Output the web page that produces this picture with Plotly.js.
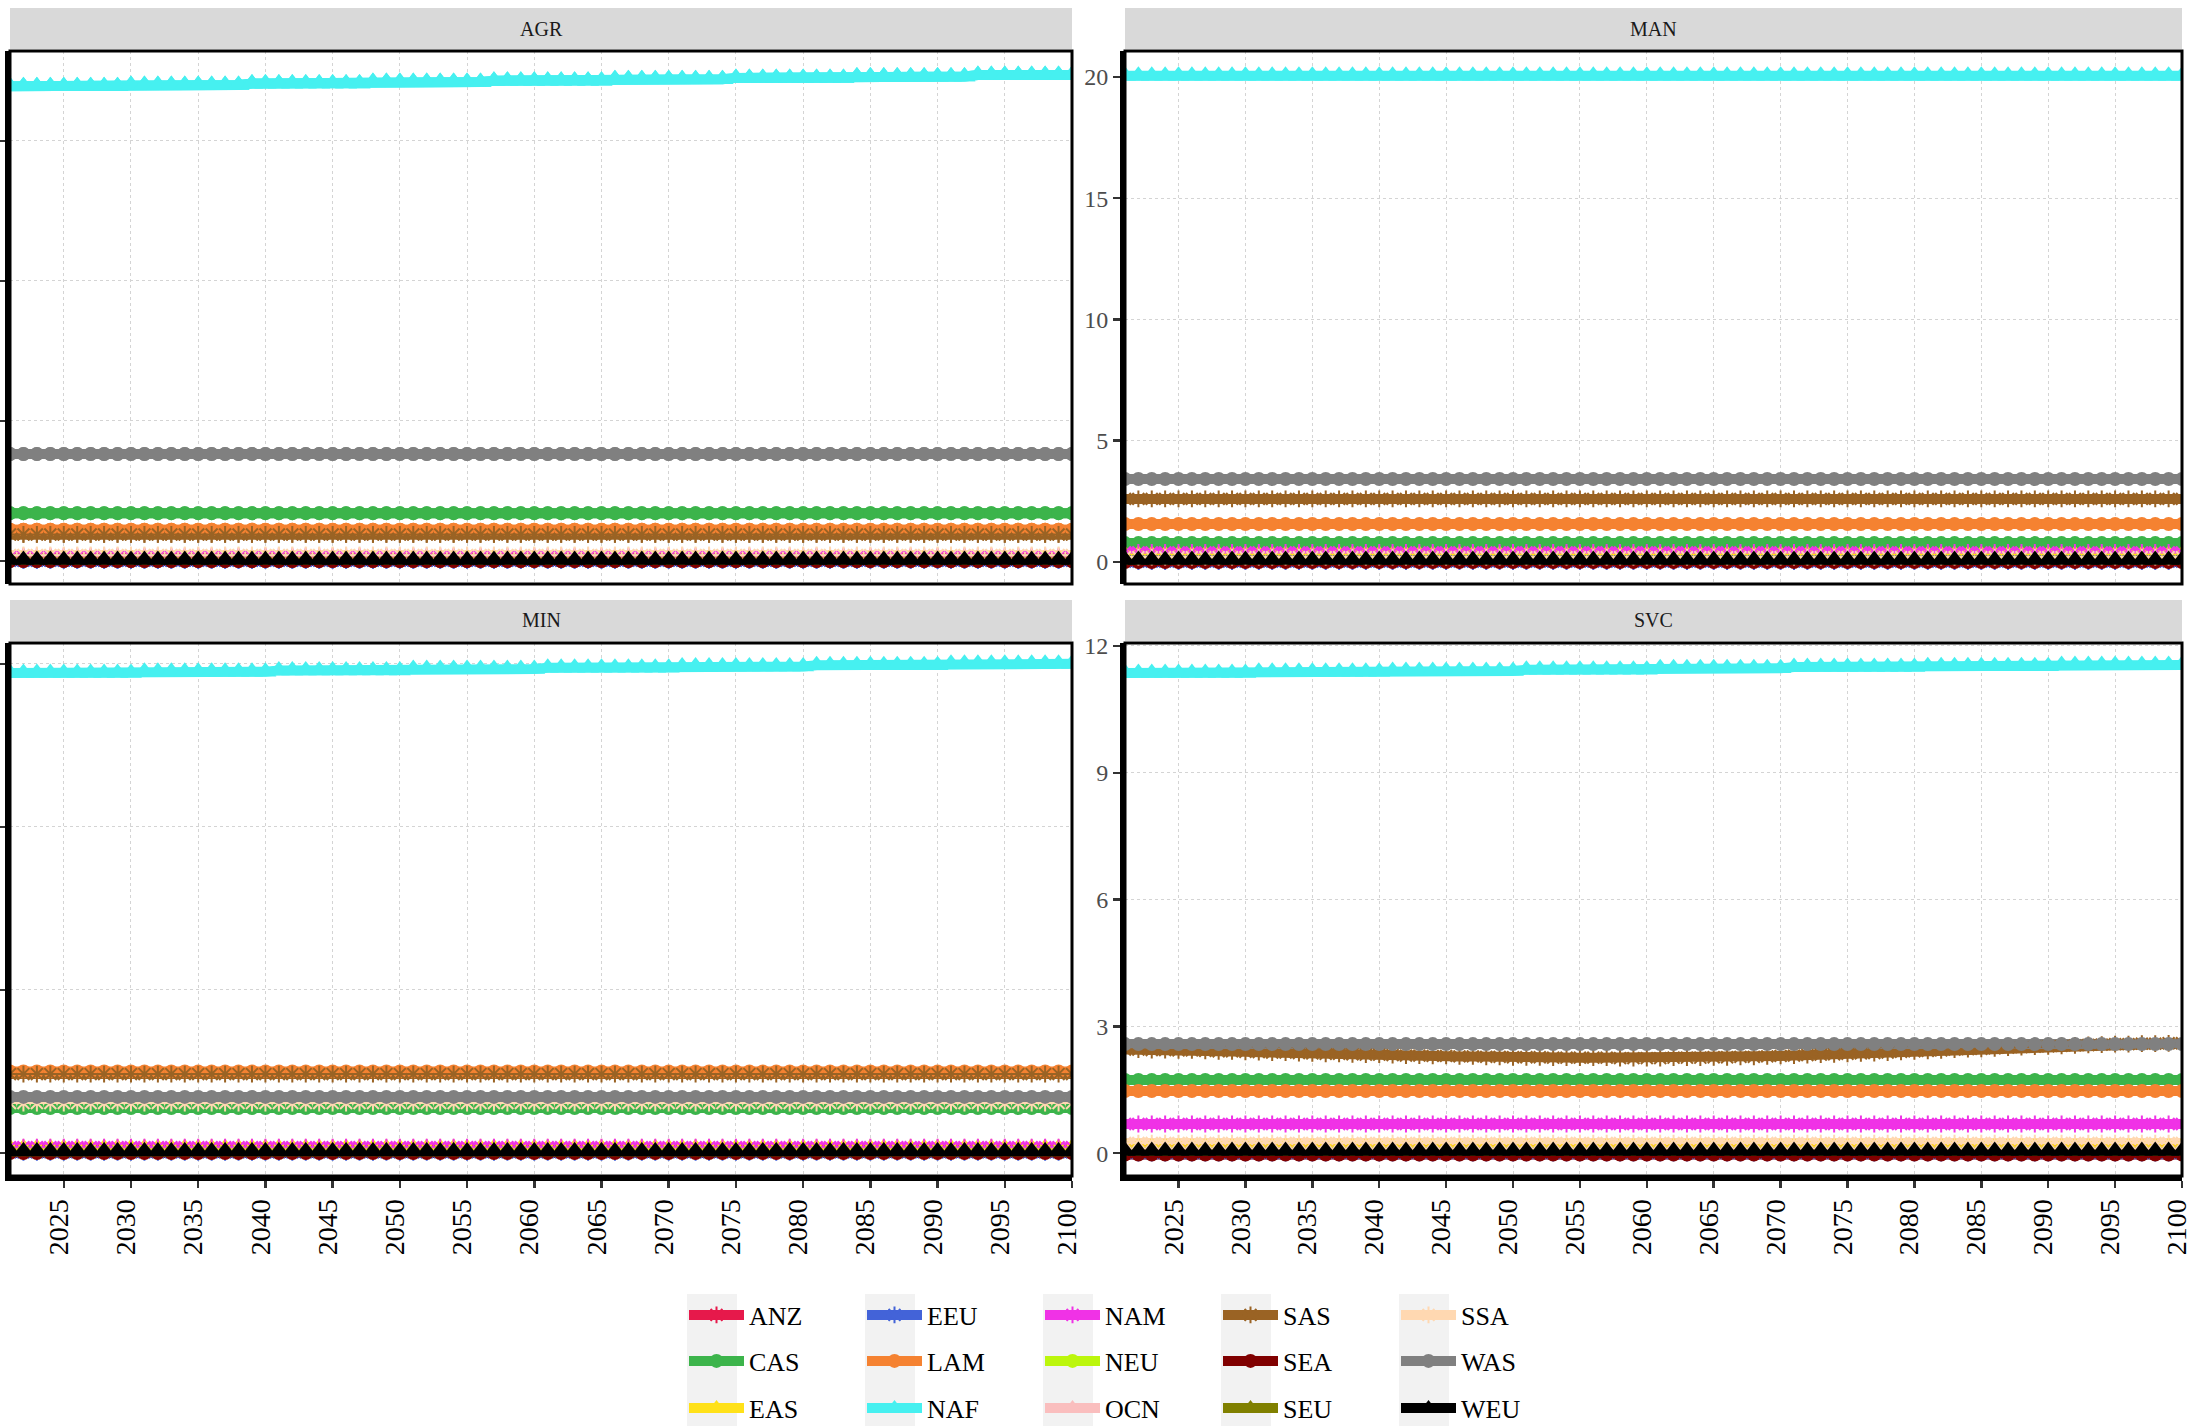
<!DOCTYPE html>
<html><head><meta charset="utf-8">
<script src="https://cdn.plot.ly/plotly-3.0.1.min.js"></script>
<style>html,body{margin:0;padding:0;background:#fff}#chart{width:2194px;height:1426px}</style>
</head><body><div id="chart"></div>
<script>
const years = [2021,2022,2023,2024,2025,2026,2027,2028,2029,2030, 2031,2032,2033,2034,2035,2036,2037,2038,2039,2040, 2041,2042,2043,2044,2045,2046,2047,2048,2049,2050, 2051,2052,2053,2054,2055,2056,2057,2058,2059,2060, 2061,2062,2063,2064,2065,2066,2067,2068,2069,2070, 2071,2072,2073,2074,2075,2076,2077,2078,2079,2080, 2081,2082,2083,2084,2085,2086,2087,2088,2089,2090, 2091,2092,2093,2094,2095,2096,2097,2098,2099,2100];
const regions = ['ANZ','CAS','EAS','EEU','LAM','NAF','NAM','NEU','OCN','SAS','SEA','SEU','SSA','WAS','WEU'];
const sectors = ['AGR','MAN','MIN','SVC'];
const xTickYears = [2025,2030,2035,2040,2045,2050,2055,2060,2065,2070,2075,2080,2085,2090,2095,2100];
const AGR_ticks = [0,5,10,15];
const MAN_ticks = [0,5,10,15,20];
const MIN_ticks = [0,5,10,15];
const SVC_ticks = [0,3,6,9,12];

// ---- AGR ----
const AGR_ANZ = [.05,.05,.05,.05,.05,.05,.05,.05,.05,.05, .05,.05,.05,.05,.05,.05,.05,.05,.05,.05, .05,.05,.05,.05,.05,.05,.05,.05,.05,.05, .05,.05,.05,.05,.05,.05,.05,.05,.05,.05, .05,.05,.05,.05,.05,.05,.05,.05,.05,.05, .05,.05,.05,.05,.05,.05,.05,.05,.05,.05, .05,.05,.05,.05,.05,.05,.05,.05,.05,.05, .05,.05,.05,.05,.05,.05,.05,.05,.05,.05];
const AGR_CAS = [1.71,1.71,1.71,1.71,1.71,1.71,1.71,1.71,1.71,1.71, 1.71,1.71,1.71,1.71,1.71,1.71,1.71,1.71,1.71,1.71, 1.71,1.71,1.71,1.71,1.71,1.71,1.71,1.71,1.71,1.71, 1.71,1.71,1.71,1.71,1.71,1.71,1.71,1.71,1.71,1.71, 1.71,1.71,1.71,1.71,1.71,1.71,1.71,1.71,1.71,1.71, 1.71,1.71,1.71,1.71,1.71,1.71,1.71,1.71,1.71,1.71, 1.71,1.71,1.71,1.71,1.71,1.71,1.71,1.71,1.71,1.71, 1.71,1.71,1.71,1.71,1.71,1.71,1.71,1.71,1.71,1.71];
const AGR_EAS = [.1,.1,.1,.1,.1,.1,.1,.1,.1,.1, .1,.1,.1,.1,.1,.1,.1,.1,.1,.1, .1,.1,.1,.1,.1,.1,.1,.1,.1,.1, .1,.1,.1,.1,.1,.1,.1,.1,.1,.1, .1,.1,.1,.1,.1,.1,.1,.1,.1,.1, .1,.1,.1,.1,.1,.1,.1,.1,.1,.1, .1,.1,.1,.1,.1,.1,.1,.1,.1,.1, .1,.1,.1,.1,.1,.1,.1,.1,.1,.1];
const AGR_EEU = [.02,.02,.02,.02,.02,.02,.02,.02,.02,.02, .02,.02,.02,.02,.02,.02,.02,.02,.02,.02, .02,.02,.02,.02,.02,.02,.02,.02,.02,.02, .02,.02,.02,.02,.02,.02,.02,.02,.02,.02, .02,.02,.02,.02,.02,.02,.02,.02,.02,.02, .02,.02,.02,.02,.02,.02,.02,.02,.02,.02, .02,.02,.02,.02,.02,.02,.02,.02,.02,.02, .02,.02,.02,.02,.02,.02,.02,.02,.02,.02];
const AGR_LAM = [1.12,1.12,1.12,1.12,1.12,1.12,1.12,1.12,1.12,1.12, 1.12,1.12,1.12,1.12,1.12,1.12,1.12,1.12,1.12,1.12, 1.12,1.12,1.12,1.12,1.12,1.12,1.12,1.12,1.12,1.12, 1.12,1.12,1.12,1.12,1.12,1.12,1.12,1.12,1.12,1.12, 1.12,1.12,1.12,1.12,1.12,1.12,1.12,1.12,1.12,1.12, 1.12,1.12,1.12,1.12,1.12,1.12,1.12,1.12,1.12,1.12, 1.12,1.12,1.12,1.12,1.12,1.12,1.12,1.12,1.12,1.12, 1.12,1.12,1.12,1.12,1.12,1.12,1.12,1.12,1.12,1.12];
const AGR_NAF = [16.95,16.95,16.95,16.95,16.95,16.95,16.95,16.95,16.95, 17,17,17,17,17,17,17,17,17, 17.05,17.05,17.05,17.05,17.05,17.05,17.05,17.05,17.05, 17.1,17.1,17.1,17.1,17.1,17.1,17.1,17.1,17.1, 17.15,17.15,17.15,17.15,17.15,17.15,17.15,17.15,17.15, 17.2,17.2,17.2,17.2,17.2,17.2,17.2,17.2,17.2, 17.25,17.25,17.25,17.25,17.25,17.25,17.25,17.25,17.25, 17.3,17.3,17.3,17.3,17.3,17.3,17.3,17.3,17.3, 17.35,17.35,17.35,17.35,17.35,17.35,17.35,17.35];
const AGR_NAM = [.15,.15,.15,.15,.15,.15,.15,.15,.15,.15, .15,.15,.15,.15,.15,.15,.15,.15,.15,.15, .15,.15,.15,.15,.15,.15,.15,.15,.15,.15, .15,.15,.15,.15,.15,.15,.15,.15,.15,.15, .15,.15,.15,.15,.15,.15,.15,.15,.15,.15, .15,.15,.15,.15,.15,.15,.15,.15,.15,.15, .15,.15,.15,.15,.15,.15,.15,.15,.15,.15, .15,.15,.15,.15,.15,.15,.15,.15,.15,.15];
const AGR_NEU = [.03,.03,.03,.03,.03,.03,.03,.03,.03,.03, .03,.03,.03,.03,.03,.03,.03,.03,.03,.03, .03,.03,.03,.03,.03,.03,.03,.03,.03,.03, .03,.03,.03,.03,.03,.03,.03,.03,.03,.03, .03,.03,.03,.03,.03,.03,.03,.03,.03,.03, .03,.03,.03,.03,.03,.03,.03,.03,.03,.03, .03,.03,.03,.03,.03,.03,.03,.03,.03,.03, .03,.03,.03,.03,.03,.03,.03,.03,.03,.03];
const AGR_OCN = [.06,.06,.06,.06,.06,.06,.06,.06,.06,.06, .06,.06,.06,.06,.06,.06,.06,.06,.06,.06, .06,.06,.06,.06,.06,.06,.06,.06,.06,.06, .06,.06,.06,.06,.06,.06,.06,.06,.06,.06, .06,.06,.06,.06,.06,.06,.06,.06,.06,.06, .06,.06,.06,.06,.06,.06,.06,.06,.06,.06, .06,.06,.06,.06,.06,.06,.06,.06,.06,.06, .06,.06,.06,.06,.06,.06,.06,.06,.06,.06];
const AGR_SAS = [.95,.95,.95,.95,.95,.95,.95,.95,.95,.95, .95,.95,.95,.95,.95,.95,.95,.95,.95,.95, .95,.95,.95,.95,.95,.95,.95,.95,.95,.95, .95,.95,.95,.95,.95,.95,.95,.95,.95,.95, .95,.95,.95,.95,.95,.95,.95,.95,.95,.95, .95,.95,.95,.95,.95,.95,.95,.95,.95,.95, .95,.95,.95,.95,.95,.95,.95,.95,.95,.95, .95,.95,.95,.95,.95,.95,.95,.95,.95,.95];
const AGR_SEA = [0,0,0,0,0,0,0,0,0,0, 0,0,0,0,0,0,0,0,0,0, 0,0,0,0,0,0,0,0,0,0, 0,0,0,0,0,0,0,0,0,0, 0,0,0,0,0,0,0,0,0,0, 0,0,0,0,0,0,0,0,0,0, 0,0,0,0,0,0,0,0,0,0, 0,0,0,0,0,0,0,0,0,0];
const AGR_SEU = [.04,.04,.04,.04,.04,.04,.04,.04,.04,.04, .04,.04,.04,.04,.04,.04,.04,.04,.04,.04, .04,.04,.04,.04,.04,.04,.04,.04,.04,.04, .04,.04,.04,.04,.04,.04,.04,.04,.04,.04, .04,.04,.04,.04,.04,.04,.04,.04,.04,.04, .04,.04,.04,.04,.04,.04,.04,.04,.04,.04, .04,.04,.04,.04,.04,.04,.04,.04,.04,.04, .04,.04,.04,.04,.04,.04,.04,.04,.04,.04];
const AGR_SSA = [.21,.21,.21,.21,.21,.21,.21,.21,.21,.21, .21,.21,.21,.21,.21,.21,.21,.21,.21,.21, .21,.21,.21,.21,.21,.21,.21,.21,.21,.21, .21,.21,.21,.21,.21,.21,.21,.21,.21,.21, .21,.21,.21,.21,.21,.21,.21,.21,.21,.21, .21,.21,.21,.21,.21,.21,.21,.21,.21,.21, .21,.21,.21,.21,.21,.21,.21,.21,.21,.21, .21,.21,.21,.21,.21,.21,.21,.21,.21,.21];
const AGR_WAS = [3.82,3.82,3.82,3.82,3.82,3.82,3.82,3.82,3.82,3.82, 3.82,3.82,3.82,3.82,3.82,3.82,3.82,3.82,3.82,3.82, 3.82,3.82,3.82,3.82,3.82,3.82,3.82,3.82,3.82,3.82, 3.82,3.82,3.82,3.82,3.82,3.82,3.82,3.82,3.82,3.82, 3.82,3.82,3.82,3.82,3.82,3.82,3.82,3.82,3.82,3.82, 3.82,3.82,3.82,3.82,3.82,3.82,3.82,3.82,3.82,3.82, 3.82,3.82,3.82,3.82,3.82,3.82,3.82,3.82,3.82,3.82, 3.82,3.82,3.82,3.82,3.82,3.82,3.82,3.82,3.82,3.82];
const AGR_WEU = [.04,.04,.04,.04,.04,.04,.04,.04,.04,.04, .04,.04,.04,.04,.04,.04,.04,.04,.04,.04, .04,.04,.04,.04,.04,.04,.04,.04,.04,.04, .04,.04,.04,.04,.04,.04,.04,.04,.04,.04, .04,.04,.04,.04,.04,.04,.04,.04,.04,.04, .04,.04,.04,.04,.04,.04,.04,.04,.04,.04, .04,.04,.04,.04,.04,.04,.04,.04,.04,.04, .04,.04,.04,.04,.04,.04,.04,.04,.04,.04];

// ---- MAN ----
const MAN_ANZ = [.05,.05,.05,.05,.05,.05,.05,.05,.05,.05, .05,.05,.05,.05,.05,.05,.05,.05,.05,.05, .05,.05,.05,.05,.05,.05,.05,.05,.05,.05, .05,.05,.05,.05,.05,.05,.05,.05,.05,.05, .05,.05,.05,.05,.05,.05,.05,.05,.05,.05, .05,.05,.05,.05,.05,.05,.05,.05,.05,.05, .05,.05,.05,.05,.05,.05,.05,.05,.05,.05, .05,.05,.05,.05,.05,.05,.05,.05,.05,.05];
const MAN_CAS = [.78,.78,.78,.78,.78,.78,.78,.78,.78,.78, .78,.78,.78,.78,.78,.78,.78,.78,.78,.78, .78,.78,.78,.78,.78,.78,.78,.78,.78,.78, .78,.78,.78,.78,.78,.78,.78,.78,.78,.78, .78,.78,.78,.78,.78,.78,.78,.78,.78,.78, .78,.78,.78,.78,.78,.78,.78,.78,.78,.78, .78,.78,.78,.78,.78,.78,.78,.78,.78,.78, .78,.78,.78,.78,.78,.78,.78,.78,.78,.78];
const MAN_EAS = [.3,.3,.3,.3,.3,.3,.3,.3,.3,.3, .3,.3,.3,.3,.3,.3,.3,.3,.3,.3, .3,.3,.3,.3,.3,.3,.3,.3,.3,.3, .3,.3,.3,.3,.3,.3,.3,.3,.3,.3, .3,.3,.3,.3,.3,.3,.3,.3,.3,.3, .3,.3,.3,.3,.3,.3,.3,.3,.3,.3, .3,.3,.3,.3,.3,.3,.3,.3,.3,.3, .3,.3,.3,.3,.3,.3,.3,.3,.3,.3];
const MAN_EEU = [.02,.02,.02,.02,.02,.02,.02,.02,.02,.02, .02,.02,.02,.02,.02,.02,.02,.02,.02,.02, .02,.02,.02,.02,.02,.02,.02,.02,.02,.02, .02,.02,.02,.02,.02,.02,.02,.02,.02,.02, .02,.02,.02,.02,.02,.02,.02,.02,.02,.02, .02,.02,.02,.02,.02,.02,.02,.02,.02,.02, .02,.02,.02,.02,.02,.02,.02,.02,.02,.02, .02,.02,.02,.02,.02,.02,.02,.02,.02,.02];
const MAN_LAM = [1.57,1.57,1.57,1.57,1.57,1.57,1.57,1.57,1.57,1.57, 1.57,1.57,1.57,1.57,1.57,1.57,1.57,1.57,1.57,1.57, 1.57,1.57,1.57,1.57,1.57,1.57,1.57,1.57,1.57,1.57, 1.57,1.57,1.57,1.57,1.57,1.57,1.57,1.57,1.57,1.57, 1.57,1.57,1.57,1.57,1.57,1.57,1.57,1.57,1.57,1.57, 1.57,1.57,1.57,1.57,1.57,1.57,1.57,1.57,1.57,1.57, 1.57,1.57,1.57,1.57,1.57,1.57,1.57,1.57,1.57,1.57, 1.57,1.57,1.57,1.57,1.57,1.57,1.57,1.57,1.57,1.57];
const MAN_NAF = [20.05,20.05,20.05,20.05,20.05,20.05,20.05,20.05,20.05,20.05, 20.05,20.05,20.05,20.05,20.05,20.05,20.05,20.05,20.05,20.05, 20.05,20.05,20.05,20.05,20.05,20.05,20.05,20.05,20.05,20.05, 20.05,20.05,20.05,20.05,20.05,20.05,20.05,20.05,20.05,20.05, 20.05,20.05,20.05,20.05,20.05,20.05,20.05,20.05,20.05,20.05, 20.05,20.05,20.05,20.05,20.05,20.05,20.05,20.05,20.05,20.05, 20.05,20.05,20.05,20.05,20.05,20.05,20.05,20.05,20.05,20.05, 20.05,20.05,20.05,20.05,20.05,20.05,20.05,20.05,20.05,20.05];
const MAN_NAM = [.4,.4,.4,.4,.4,.4,.4,.4,.4,.4, .4,.4,.4,.4,.4,.4,.4,.4,.4,.4, .4,.4,.4,.4,.4,.4,.4,.4,.4,.4, .4,.4,.4,.4,.4,.4,.4,.4,.4,.4, .4,.4,.4,.4,.4,.4,.4,.4,.4,.4, .4,.4,.4,.4,.4,.4,.4,.4,.4,.4, .4,.4,.4,.4,.4,.4,.4,.4,.4,.4, .4,.4,.4,.4,.4,.4,.4,.4,.4,.4];
const MAN_NEU = [.05,.05,.05,.05,.05,.05,.05,.05,.05,.05, .05,.05,.05,.05,.05,.05,.05,.05,.05,.05, .05,.05,.05,.05,.05,.05,.05,.05,.05,.05, .05,.05,.05,.05,.05,.05,.05,.05,.05,.05, .05,.05,.05,.05,.05,.05,.05,.05,.05,.05, .05,.05,.05,.05,.05,.05,.05,.05,.05,.05, .05,.05,.05,.05,.05,.05,.05,.05,.05,.05, .05,.05,.05,.05,.05,.05,.05,.05,.05,.05];
const MAN_OCN = [.1,.1,.1,.1,.1,.1,.1,.1,.1,.1, .1,.1,.1,.1,.1,.1,.1,.1,.1,.1, .1,.1,.1,.1,.1,.1,.1,.1,.1,.1, .1,.1,.1,.1,.1,.1,.1,.1,.1,.1, .1,.1,.1,.1,.1,.1,.1,.1,.1,.1, .1,.1,.1,.1,.1,.1,.1,.1,.1,.1, .1,.1,.1,.1,.1,.1,.1,.1,.1,.1, .1,.1,.1,.1,.1,.1,.1,.1,.1,.1];
const MAN_SAS = [2.6,2.6,2.6,2.6,2.6,2.6,2.6,2.6,2.6,2.6, 2.6,2.6,2.6,2.6,2.6,2.6,2.6,2.6,2.6,2.6, 2.6,2.6,2.6,2.6,2.6,2.6,2.6,2.6,2.6,2.6, 2.6,2.6,2.6,2.6,2.6,2.6,2.6,2.6,2.6,2.6, 2.6,2.6,2.6,2.6,2.6,2.6,2.6,2.6,2.6,2.6, 2.6,2.6,2.6,2.6,2.6,2.6,2.6,2.6,2.6,2.6, 2.6,2.6,2.6,2.6,2.6,2.6,2.6,2.6,2.6,2.6, 2.6,2.6,2.6,2.6,2.6,2.6,2.6,2.6,2.6,2.6];
const MAN_SEA = [0,0,0,0,0,0,0,0,0,0, 0,0,0,0,0,0,0,0,0,0, 0,0,0,0,0,0,0,0,0,0, 0,0,0,0,0,0,0,0,0,0, 0,0,0,0,0,0,0,0,0,0, 0,0,0,0,0,0,0,0,0,0, 0,0,0,0,0,0,0,0,0,0, 0,0,0,0,0,0,0,0,0,0];
const MAN_SEU = [.08,.08,.08,.08,.08,.08,.08,.08,.08,.08, .08,.08,.08,.08,.08,.08,.08,.08,.08,.08, .08,.08,.08,.08,.08,.08,.08,.08,.08,.08, .08,.08,.08,.08,.08,.08,.08,.08,.08,.08, .08,.08,.08,.08,.08,.08,.08,.08,.08,.08, .08,.08,.08,.08,.08,.08,.08,.08,.08,.08, .08,.08,.08,.08,.08,.08,.08,.08,.08,.08, .08,.08,.08,.08,.08,.08,.08,.08,.08,.08];
const MAN_SSA = [.2,.2,.2,.2,.2,.2,.2,.2,.2,.2, .2,.2,.2,.2,.2,.2,.2,.2,.2,.2, .2,.2,.2,.2,.2,.2,.2,.2,.2,.2, .2,.2,.2,.2,.2,.2,.2,.2,.2,.2, .2,.2,.2,.2,.2,.2,.2,.2,.2,.2, .2,.2,.2,.2,.2,.2,.2,.2,.2,.2, .2,.2,.2,.2,.2,.2,.2,.2,.2,.2, .2,.2,.2,.2,.2,.2,.2,.2,.2,.2];
const MAN_WAS = [3.42,3.42,3.42,3.42,3.42,3.42,3.42,3.42,3.42,3.42, 3.42,3.42,3.42,3.42,3.42,3.42,3.42,3.42,3.42,3.42, 3.42,3.42,3.42,3.42,3.42,3.42,3.42,3.42,3.42,3.42, 3.42,3.42,3.42,3.42,3.42,3.42,3.42,3.42,3.42,3.42, 3.42,3.42,3.42,3.42,3.42,3.42,3.42,3.42,3.42,3.42, 3.42,3.42,3.42,3.42,3.42,3.42,3.42,3.42,3.42,3.42, 3.42,3.42,3.42,3.42,3.42,3.42,3.42,3.42,3.42,3.42, 3.42,3.42,3.42,3.42,3.42,3.42,3.42,3.42,3.42,3.42];
const MAN_WEU = [.08,.08,.08,.08,.08,.08,.08,.08,.08,.08, .08,.08,.08,.08,.08,.08,.08,.08,.08,.08, .08,.08,.08,.08,.08,.08,.08,.08,.08,.08, .08,.08,.08,.08,.08,.08,.08,.08,.08,.08, .08,.08,.08,.08,.08,.08,.08,.08,.08,.08, .08,.08,.08,.08,.08,.08,.08,.08,.08,.08, .08,.08,.08,.08,.08,.08,.08,.08,.08,.08, .08,.08,.08,.08,.08,.08,.08,.08,.08,.08];

// ---- MIN ----
const MIN_ANZ = [.05,.05,.05,.05,.05,.05,.05,.05,.05,.05, .05,.05,.05,.05,.05,.05,.05,.05,.05,.05, .05,.05,.05,.05,.05,.05,.05,.05,.05,.05, .05,.05,.05,.05,.05,.05,.05,.05,.05,.05, .05,.05,.05,.05,.05,.05,.05,.05,.05,.05, .05,.05,.05,.05,.05,.05,.05,.05,.05,.05, .05,.05,.05,.05,.05,.05,.05,.05,.05,.05, .05,.05,.05,.05,.05,.05,.05,.05,.05,.05];
const MIN_CAS = [1.38,1.38,1.38,1.38,1.38,1.38,1.38,1.38,1.38,1.38, 1.38,1.38,1.38,1.38,1.38,1.38,1.38,1.38,1.38,1.38, 1.38,1.38,1.38,1.38,1.38,1.38,1.38,1.38,1.38,1.38, 1.38,1.38,1.38,1.38,1.38,1.38,1.38,1.38,1.38,1.38, 1.38,1.38,1.38,1.38,1.38,1.38,1.38,1.38,1.38,1.38, 1.38,1.38,1.38,1.38,1.38,1.38,1.38,1.38,1.38,1.38, 1.38,1.38,1.38,1.38,1.38,1.38,1.38,1.38,1.38,1.38, 1.38,1.38,1.38,1.38,1.38,1.38,1.38,1.38,1.38,1.38];
const MIN_EAS = [.15,.15,.15,.15,.15,.15,.15,.15,.15,.15, .15,.15,.15,.15,.15,.15,.15,.15,.15,.15, .15,.15,.15,.15,.15,.15,.15,.15,.15,.15, .15,.15,.15,.15,.15,.15,.15,.15,.15,.15, .15,.15,.15,.15,.15,.15,.15,.15,.15,.15, .15,.15,.15,.15,.15,.15,.15,.15,.15,.15, .15,.15,.15,.15,.15,.15,.15,.15,.15,.15, .15,.15,.15,.15,.15,.15,.15,.15,.15,.15];
const MIN_EEU = [.02,.02,.02,.02,.02,.02,.02,.02,.02,.02, .02,.02,.02,.02,.02,.02,.02,.02,.02,.02, .02,.02,.02,.02,.02,.02,.02,.02,.02,.02, .02,.02,.02,.02,.02,.02,.02,.02,.02,.02, .02,.02,.02,.02,.02,.02,.02,.02,.02,.02, .02,.02,.02,.02,.02,.02,.02,.02,.02,.02, .02,.02,.02,.02,.02,.02,.02,.02,.02,.02, .02,.02,.02,.02,.02,.02,.02,.02,.02,.02];
const MIN_LAM = [2.5,2.5,2.5,2.5,2.5,2.5,2.5,2.5,2.5,2.5, 2.5,2.5,2.5,2.5,2.5,2.5,2.5,2.5,2.5,2.5, 2.5,2.5,2.5,2.5,2.5,2.5,2.5,2.5,2.5,2.5, 2.5,2.5,2.5,2.5,2.5,2.5,2.5,2.5,2.5,2.5, 2.5,2.5,2.5,2.5,2.5,2.5,2.5,2.5,2.5,2.5, 2.5,2.5,2.5,2.5,2.5,2.5,2.5,2.5,2.5,2.5, 2.5,2.5,2.5,2.5,2.5,2.5,2.5,2.5,2.5,2.5, 2.5,2.5,2.5,2.5,2.5,2.5,2.5,2.5,2.5,2.5];
const MIN_NAF = [14.72,14.72,14.72,14.72,14.72,14.72,14.72,14.72,14.72,14.72, 14.76,14.76,14.76,14.76,14.76,14.76,14.76,14.76,14.76,14.76, 14.8,14.8,14.8,14.8,14.8,14.8,14.8,14.8,14.8,14.8, 14.84,14.84,14.84,14.84,14.84,14.84,14.84,14.84,14.84,14.84, 14.88,14.88,14.88,14.88,14.88,14.88,14.88,14.88,14.88,14.88, 14.92,14.92,14.92,14.92,14.92,14.92,14.92,14.92,14.92,14.92, 14.96,14.96,14.96,14.96,14.96,14.96,14.96,14.96,14.96,14.96, 15,15,15,15,15,15,15,15,15,15];
const MIN_NAM = [.18,.18,.18,.18,.18,.18,.18,.18,.18,.18, .18,.18,.18,.18,.18,.18,.18,.18,.18,.18, .18,.18,.18,.18,.18,.18,.18,.18,.18,.18, .18,.18,.18,.18,.18,.18,.18,.18,.18,.18, .18,.18,.18,.18,.18,.18,.18,.18,.18,.18, .18,.18,.18,.18,.18,.18,.18,.18,.18,.18, .18,.18,.18,.18,.18,.18,.18,.18,.18,.18, .18,.18,.18,.18,.18,.18,.18,.18,.18,.18];
const MIN_NEU = [.03,.03,.03,.03,.03,.03,.03,.03,.03,.03, .03,.03,.03,.03,.03,.03,.03,.03,.03,.03, .03,.03,.03,.03,.03,.03,.03,.03,.03,.03, .03,.03,.03,.03,.03,.03,.03,.03,.03,.03, .03,.03,.03,.03,.03,.03,.03,.03,.03,.03, .03,.03,.03,.03,.03,.03,.03,.03,.03,.03, .03,.03,.03,.03,.03,.03,.03,.03,.03,.03, .03,.03,.03,.03,.03,.03,.03,.03,.03,.03];
const MIN_OCN = [.05,.05,.05,.05,.05,.05,.05,.05,.05,.05, .05,.05,.05,.05,.05,.05,.05,.05,.05,.05, .05,.05,.05,.05,.05,.05,.05,.05,.05,.05, .05,.05,.05,.05,.05,.05,.05,.05,.05,.05, .05,.05,.05,.05,.05,.05,.05,.05,.05,.05, .05,.05,.05,.05,.05,.05,.05,.05,.05,.05, .05,.05,.05,.05,.05,.05,.05,.05,.05,.05, .05,.05,.05,.05,.05,.05,.05,.05,.05,.05];
const MIN_SAS = [2.42,2.42,2.42,2.42,2.42,2.42,2.42,2.42,2.42,2.42, 2.42,2.42,2.42,2.42,2.42,2.42,2.42,2.42,2.42,2.42, 2.42,2.42,2.42,2.42,2.42,2.42,2.42,2.42,2.42,2.42, 2.42,2.42,2.42,2.42,2.42,2.42,2.42,2.42,2.42,2.42, 2.42,2.42,2.42,2.42,2.42,2.42,2.42,2.42,2.42,2.42, 2.42,2.42,2.42,2.42,2.42,2.42,2.42,2.42,2.42,2.42, 2.42,2.42,2.42,2.42,2.42,2.42,2.42,2.42,2.42,2.42, 2.42,2.42,2.42,2.42,2.42,2.42,2.42,2.42,2.42,2.42];
const MIN_SEA = [0,0,0,0,0,0,0,0,0,0, 0,0,0,0,0,0,0,0,0,0, 0,0,0,0,0,0,0,0,0,0, 0,0,0,0,0,0,0,0,0,0, 0,0,0,0,0,0,0,0,0,0, 0,0,0,0,0,0,0,0,0,0, 0,0,0,0,0,0,0,0,0,0, 0,0,0,0,0,0,0,0,0,0];
const MIN_SEU = [.05,.05,.05,.05,.05,.05,.05,.05,.05,.05, .05,.05,.05,.05,.05,.05,.05,.05,.05,.05, .05,.05,.05,.05,.05,.05,.05,.05,.05,.05, .05,.05,.05,.05,.05,.05,.05,.05,.05,.05, .05,.05,.05,.05,.05,.05,.05,.05,.05,.05, .05,.05,.05,.05,.05,.05,.05,.05,.05,.05, .05,.05,.05,.05,.05,.05,.05,.05,.05,.05, .05,.05,.05,.05,.05,.05,.05,.05,.05,.05];
const MIN_SSA = [1.53,1.53,1.53,1.53,1.53,1.53,1.53,1.53,1.53,1.53, 1.53,1.53,1.53,1.53,1.53,1.53,1.53,1.53,1.53,1.53, 1.53,1.53,1.53,1.53,1.53,1.53,1.53,1.53,1.53,1.53, 1.53,1.53,1.53,1.53,1.53,1.53,1.53,1.53,1.53,1.53, 1.53,1.53,1.53,1.53,1.53,1.53,1.53,1.53,1.53,1.53, 1.53,1.53,1.53,1.53,1.53,1.53,1.53,1.53,1.53,1.53, 1.53,1.53,1.53,1.53,1.53,1.53,1.53,1.53,1.53,1.53, 1.53,1.53,1.53,1.53,1.53,1.53,1.53,1.53,1.53,1.53];
const MIN_WAS = [1.72,1.72,1.72,1.72,1.72,1.72,1.72,1.72,1.72,1.72, 1.72,1.72,1.72,1.72,1.72,1.72,1.72,1.72,1.72,1.72, 1.72,1.72,1.72,1.72,1.72,1.72,1.72,1.72,1.72,1.72, 1.72,1.72,1.72,1.72,1.72,1.72,1.72,1.72,1.72,1.72, 1.72,1.72,1.72,1.72,1.72,1.72,1.72,1.72,1.72,1.72, 1.72,1.72,1.72,1.72,1.72,1.72,1.72,1.72,1.72,1.72, 1.72,1.72,1.72,1.72,1.72,1.72,1.72,1.72,1.72,1.72, 1.72,1.72,1.72,1.72,1.72,1.72,1.72,1.72,1.72,1.72];
const MIN_WEU = [.05,.05,.05,.05,.05,.05,.05,.05,.05,.05, .05,.05,.05,.05,.05,.05,.05,.05,.05,.05, .05,.05,.05,.05,.05,.05,.05,.05,.05,.05, .05,.05,.05,.05,.05,.05,.05,.05,.05,.05, .05,.05,.05,.05,.05,.05,.05,.05,.05,.05, .05,.05,.05,.05,.05,.05,.05,.05,.05,.05, .05,.05,.05,.05,.05,.05,.05,.05,.05,.05, .05,.05,.05,.05,.05,.05,.05,.05,.05,.05];

// ---- SVC ----
const SVC_ANZ = [.05,.05,.05,.05,.05,.05,.05,.05,.05,.05, .05,.05,.05,.05,.05,.05,.05,.05,.05,.05, .05,.05,.05,.05,.05,.05,.05,.05,.05,.05, .05,.05,.05,.05,.05,.05,.05,.05,.05,.05, .05,.05,.05,.05,.05,.05,.05,.05,.05,.05, .05,.05,.05,.05,.05,.05,.05,.05,.05,.05, .05,.05,.05,.05,.05,.05,.05,.05,.05,.05, .05,.05,.05,.05,.05,.05,.05,.05,.05,.05];
const SVC_CAS = [1.73,1.73,1.73,1.73,1.73,1.73,1.73,1.73,1.73,1.73, 1.73,1.73,1.73,1.73,1.73,1.73,1.73,1.73,1.73,1.73, 1.73,1.73,1.73,1.73,1.73,1.73,1.73,1.73,1.73,1.73, 1.73,1.73,1.73,1.73,1.73,1.73,1.73,1.73,1.73,1.73, 1.73,1.73,1.73,1.73,1.73,1.73,1.73,1.73,1.73,1.73, 1.73,1.73,1.73,1.73,1.73,1.73,1.73,1.73,1.73,1.73, 1.73,1.73,1.73,1.73,1.73,1.73,1.73,1.73,1.73,1.73, 1.73,1.73,1.73,1.73,1.73,1.73,1.73,1.73,1.73,1.73];
const SVC_EAS = [.15,.15,.15,.15,.15,.15,.15,.15,.15,.15, .15,.15,.15,.15,.15,.15,.15,.15,.15,.15, .15,.15,.15,.15,.15,.15,.15,.15,.15,.15, .15,.15,.15,.15,.15,.15,.15,.15,.15,.15, .15,.15,.15,.15,.15,.15,.15,.15,.15,.15, .15,.15,.15,.15,.15,.15,.15,.15,.15,.15, .15,.15,.15,.15,.15,.15,.15,.15,.15,.15, .15,.15,.15,.15,.15,.15,.15,.15,.15,.15];
const SVC_EEU = [0,0,0,0,0,0,0,0,0,0, 0,0,0,0,0,0,0,0,0,0, 0,0,0,0,0,0,0,0,0,0, 0,0,0,0,0,0,0,0,0,0, 0,0,0,0,0,0,0,0,0,0, 0,0,0,0,0,0,0,0,0,0, 0,0,0,0,0,0,0,0,0,0, 0,0,0,0,0,0,0,0,0,0];
const SVC_LAM = [1.47,1.47,1.47,1.47,1.47,1.47,1.47,1.47,1.47,1.47, 1.47,1.47,1.47,1.47,1.47,1.47,1.47,1.47,1.47,1.47, 1.47,1.47,1.47,1.47,1.47,1.47,1.47,1.47,1.47,1.47, 1.47,1.47,1.47,1.47,1.47,1.47,1.47,1.47,1.47,1.47, 1.47,1.47,1.47,1.47,1.47,1.47,1.47,1.47,1.47,1.47, 1.47,1.47,1.47,1.47,1.47,1.47,1.47,1.47,1.47,1.47, 1.47,1.47,1.47,1.47,1.47,1.47,1.47,1.47,1.47,1.47, 1.47,1.47,1.47,1.47,1.47,1.47,1.47,1.47,1.47,1.47];
const SVC_NAF = [11.36,11.36,11.36,11.36,11.36,11.36,11.36,11.36,11.36,11.36, 11.39,11.39,11.39,11.39,11.39,11.39,11.39,11.39,11.39,11.39, 11.41,11.41,11.41,11.41,11.41,11.41,11.41,11.41,11.41,11.41, 11.44,11.44,11.44,11.44,11.44,11.44,11.44,11.44,11.44,11.44, 11.47,11.47,11.47,11.47,11.47,11.47,11.47,11.47,11.47,11.47, 11.5,11.5,11.5,11.5,11.5,11.5,11.5,11.5,11.5,11.5, 11.52,11.52,11.52,11.52,11.52,11.52,11.52,11.52,11.52,11.52, 11.55,11.55,11.55,11.55,11.55,11.55,11.55,11.55,11.55,11.55];
const SVC_NAM = [.69,.69,.69,.69,.69,.69,.69,.69,.69,.69, .69,.69,.69,.69,.69,.69,.69,.69,.69,.69, .69,.69,.69,.69,.69,.69,.69,.69,.69,.69, .69,.69,.69,.69,.69,.69,.69,.69,.69,.69, .69,.69,.69,.69,.69,.69,.69,.69,.69,.69, .69,.69,.69,.69,.69,.69,.69,.69,.69,.69, .69,.69,.69,.69,.69,.69,.69,.69,.69,.69, .69,.69,.69,.69,.69,.69,.69,.69,.69,.69];
const SVC_NEU = [.05,.05,.05,.05,.05,.05,.05,.05,.05,.05, .05,.05,.05,.05,.05,.05,.05,.05,.05,.05, .05,.05,.05,.05,.05,.05,.05,.05,.05,.05, .05,.05,.05,.05,.05,.05,.05,.05,.05,.05, .05,.05,.05,.05,.05,.05,.05,.05,.05,.05, .05,.05,.05,.05,.05,.05,.05,.05,.05,.05, .05,.05,.05,.05,.05,.05,.05,.05,.05,.05, .05,.05,.05,.05,.05,.05,.05,.05,.05,.05];
const SVC_OCN = [.1,.1,.1,.1,.1,.1,.1,.1,.1,.1, .1,.1,.1,.1,.1,.1,.1,.1,.1,.1, .1,.1,.1,.1,.1,.1,.1,.1,.1,.1, .1,.1,.1,.1,.1,.1,.1,.1,.1,.1, .1,.1,.1,.1,.1,.1,.1,.1,.1,.1, .1,.1,.1,.1,.1,.1,.1,.1,.1,.1, .1,.1,.1,.1,.1,.1,.1,.1,.1,.1, .1,.1,.1,.1,.1,.1,.1,.1,.1,.1];
const SVC_SAS = [2.45,2.45,2.44,2.44,2.43,2.43,2.42,2.41,2.41,2.40, 2.39,2.38,2.38,2.37,2.36,2.35,2.35,2.34,2.33,2.33, 2.32,2.31,2.31,2.30,2.30,2.29,2.29,2.28,2.28,2.27, 2.27,2.27,2.26,2.26,2.26,2.26,2.26,2.25,2.25,2.25, 2.25,2.26,2.26,2.26,2.27,2.27,2.28,2.28,2.29,2.30, 2.31,2.32,2.33,2.34,2.35,2.36,2.37,2.38,2.40,2.41, 2.42,2.43,2.45,2.46,2.47,2.48,2.50,2.51,2.52,2.53, 2.54,2.55,2.56,2.57,2.58,2.58,2.59,2.59,2.60,2.60];
const SVC_SEA = [-.03,-.03,-.03,-.03,-.03,-.03,-.03,-.03,-.03,-.03, -.03,-.03,-.03,-.03,-.03,-.03,-.03,-.03,-.03,-.03, -.03,-.03,-.03,-.03,-.03,-.03,-.03,-.03,-.03,-.03, -.03,-.03,-.03,-.03,-.03,-.03,-.03,-.03,-.03,-.03, -.03,-.03,-.03,-.03,-.03,-.03,-.03,-.03,-.03,-.03, -.03,-.03,-.03,-.03,-.03,-.03,-.03,-.03,-.03,-.03, -.03,-.03,-.03,-.03,-.03,-.03,-.03,-.03,-.03,-.03, -.03,-.03,-.03,-.03,-.03,-.03,-.03,-.03,-.03,-.03];
const SVC_SEU = [.05,.05,.05,.05,.05,.05,.05,.05,.05,.05, .05,.05,.05,.05,.05,.05,.05,.05,.05,.05, .05,.05,.05,.05,.05,.05,.05,.05,.05,.05, .05,.05,.05,.05,.05,.05,.05,.05,.05,.05, .05,.05,.05,.05,.05,.05,.05,.05,.05,.05, .05,.05,.05,.05,.05,.05,.05,.05,.05,.05, .05,.05,.05,.05,.05,.05,.05,.05,.05,.05, .05,.05,.05,.05,.05,.05,.05,.05,.05,.05];
const SVC_SSA = [.24,.24,.24,.24,.24,.24,.24,.24,.24,.24, .24,.24,.24,.24,.24,.24,.24,.24,.24,.24, .24,.24,.24,.24,.24,.24,.24,.24,.24,.24, .24,.24,.24,.24,.24,.24,.24,.24,.24,.24, .24,.24,.24,.24,.24,.24,.24,.24,.24,.24, .24,.24,.24,.24,.24,.24,.24,.24,.24,.24, .24,.24,.24,.24,.24,.24,.24,.24,.24,.24, .24,.24,.24,.24,.24,.24,.24,.24,.24,.24];
const SVC_WAS = [2.58,2.58,2.58,2.58,2.58,2.58,2.58,2.58,2.58,2.58, 2.58,2.58,2.58,2.58,2.58,2.58,2.58,2.58,2.58,2.58, 2.58,2.58,2.58,2.58,2.58,2.58,2.58,2.58,2.58,2.58, 2.58,2.58,2.58,2.58,2.58,2.58,2.58,2.58,2.58,2.58, 2.58,2.58,2.58,2.58,2.58,2.58,2.58,2.58,2.58,2.58, 2.58,2.58,2.58,2.58,2.58,2.58,2.58,2.58,2.58,2.58, 2.58,2.58,2.58,2.58,2.58,2.58,2.58,2.58,2.58,2.58, 2.58,2.58,2.58,2.58,2.58,2.58,2.58,2.58,2.58,2.58];
const SVC_WEU = [.05,.05,.05,.05,.05,.05,.05,.05,.05,.05, .05,.05,.05,.05,.05,.05,.05,.05,.05,.05, .05,.05,.05,.05,.05,.05,.05,.05,.05,.05, .05,.05,.05,.05,.05,.05,.05,.05,.05,.05, .05,.05,.05,.05,.05,.05,.05,.05,.05,.05, .05,.05,.05,.05,.05,.05,.05,.05,.05,.05, .05,.05,.05,.05,.05,.05,.05,.05,.05,.05, .05,.05,.05,.05,.05,.05,.05,.05,.05,.05];

// ---- styles (not data) ----
const regionColors = ['#e6194b','#3cb44b','#ffe119','#4363d8','#f58231','#46f0f0','#f032e6','#bcf60c','#fabebe','#9a6324','#800000','#808000','#ffd8b1','#808080','#000000'];
const regionSymbols = ['asterisk-open','circle','triangle-up','asterisk-open','circle','triangle-up','asterisk-open','circle','triangle-up','asterisk-open','circle','triangle-up','asterisk-open','circle','triangle-up'];

const seriesBySector = {
  AGR: [AGR_ANZ,AGR_CAS,AGR_EAS,AGR_EEU,AGR_LAM,AGR_NAF,AGR_NAM,AGR_NEU,AGR_OCN,AGR_SAS,AGR_SEA,AGR_SEU,AGR_SSA,AGR_WAS,AGR_WEU],
  MAN: [MAN_ANZ,MAN_CAS,MAN_EAS,MAN_EEU,MAN_LAM,MAN_NAF,MAN_NAM,MAN_NEU,MAN_OCN,MAN_SAS,MAN_SEA,MAN_SEU,MAN_SSA,MAN_WAS,MAN_WEU],
  MIN: [MIN_ANZ,MIN_CAS,MIN_EAS,MIN_EEU,MIN_LAM,MIN_NAF,MIN_NAM,MIN_NEU,MIN_OCN,MIN_SAS,MIN_SEA,MIN_SEU,MIN_SSA,MIN_WAS,MIN_WEU],
  SVC: [SVC_ANZ,SVC_CAS,SVC_EAS,SVC_EEU,SVC_LAM,SVC_NAF,SVC_NAM,SVC_NEU,SVC_OCN,SVC_SAS,SVC_SEA,SVC_SEU,SVC_SSA,SVC_WAS,SVC_WEU]
};
const axisIds = {AGR: ['x','y'], MAN: ['x2','y2'], MIN: ['x3','y3'], SVC: ['x4','y4']};

function markerFor(i) {
  const sym = regionSymbols[i];
  const isAst = sym.indexOf('asterisk') === 0;
  const isTri = sym.indexOf('triangle') === 0;
  return {
    symbol: sym,
    size: isTri ? 19 : 14,
    color: regionColors[i],
    line: {width: isAst ? 2 : 0, color: regionColors[i]}
  };
}

const traces = [];
// legend traces (drawn first, underneath the AGR layers)
regions.forEach((r, i) => {
  const leg = ['legend','legend2','legend3'][i % 3];
  traces.push({
    type: 'scatter', mode: 'lines+markers', name: r, legend: leg,
    x: years, y: seriesBySector.AGR[i], xaxis: 'x', yaxis: 'y',
    line: {color: regionColors[i], width: 10}, marker: markerFor(i),
    hoverinfo: 'skip', showlegend: true
  });
});
// lines first, then points (ggplot layering)
sectors.forEach(s => {
  const [xa, ya] = axisIds[s];
  regions.forEach((r, i) => {
    traces.push({type: 'scatter', mode: 'lines', name: r, x: years, y: seriesBySector[s][i],
      xaxis: xa, yaxis: ya, line: {color: regionColors[i], width: 10}, showlegend: false, hoverinfo: 'skip'});
  });
  regions.forEach((r, i) => {
    traces.push({type: 'scatter', mode: 'markers', name: r, x: years, y: seriesBySector[s][i],
      xaxis: xa, yaxis: ya, marker: markerFor(i), showlegend: false, hoverinfo: 'skip'});
  });
});

// ---- layout geometry (pixels) ----
const W = 2194, H = 1426;
const mL = 10, mR = 12, mT = 51, mB = 250;
const pw = W - mL - mR, ph = H - mT - mB;
const px2x = p => (p - mL) / pw;
const py2y = p => (H - mB - p) / ph;
const leftDom = [0, px2x(1072)];
const rightDom = [px2x(1125), 1];
const topDom = [py2y(584), 1];
const botDom = [0, py2y(643)];
const panelH = 533, stripH = 43;

const font = '"Liberation Serif", "Times New Roman", Times, serif';
const gridStyle = {showgrid: true, gridcolor: '#d4d4d4', griddash: 'dot', gridwidth: 1, zeroline: false};
function xAxis(dom, anchor, bottom) {
  return Object.assign({
    domain: dom, anchor: anchor, range: [2021, 2100], tickvals: xTickYears, ticktext: xTickYears.map(String),
    showline: bottom, linecolor: '#000', linewidth: 5,
    ticks: bottom ? 'outside' : '', ticklen: 7, tickwidth: 2.5, tickcolor: '#333',
    showticklabels: bottom, tickangle: -90, ticklabeloverflow: 'allow', ticklabelshift: -5,
    tickfont: {family: font, size: 28, color: '#000'}
  }, gridStyle);
}
function yAxis(dom, anchor, range, ticks, labels) {
  return Object.assign({
    domain: dom, anchor: anchor, range: range, tickvals: ticks, ticktext: ticks.map(String),
    showline: true, linecolor: '#000', linewidth: 5,
    ticks: 'outside', ticklen: 7, tickwidth: 2.5, tickcolor: '#333',
    showticklabels: labels, tickfont: {family: font, size: 24, color: '#4d4d4d'}
  }, gridStyle);
}

const shapes = [];
const annotations = [];
sectors.forEach(s => {
  const [xa, ya] = axisIds[s];
  shapes.push({type: 'rect', xref: xa + ' domain', yref: ya + ' domain', x0: 0, x1: 1, y0: 0, y1: 1,
    line: {color: '#000', width: 3}, fillcolor: 'rgba(0,0,0,0)', layer: 'above'});
  shapes.push({type: 'rect', xref: xa + ' domain', yref: ya + ' domain', x0: 0, x1: 1, y0: 1 + 2/panelH, y1: 1 + stripH/panelH,
    line: {width: 0}, fillcolor: '#d9d9d9', layer: 'above'});
  annotations.push({xref: xa + ' domain', yref: ya + ' domain', x: 0.5, y: 1 + (stripH/2 + 1)/panelH,
    xanchor: 'center', yanchor: 'middle', text: s, showarrow: false, font: {family: font, size: 20, color: '#1a1a1a'}});
});
// legend key backgrounds
const colStep = 178, keyLeft = 687;
for (let c = 0; c < 5; c++) {
  shapes.push({type: 'rect', xref: 'paper', yref: 'paper',
    x0: px2x(keyLeft + c * colStep), x1: px2x(keyLeft + 50 + c * colStep),
    y0: py2y(1294), y1: py2y(1426), line: {width: 0}, fillcolor: '#f2f2f2', layer: 'below'});
}

function legendCfg(yPx) {
  return {orientation: 'h', xref: 'container', yref: 'container', x: 684 / W, xanchor: 'left',
    y: 1 - yPx / H, yanchor: 'middle', entrywidth: 108, entrywidthmode: 'pixels', itemwidth: 55,
    font: {family: font, size: 26, color: '#000'}, bgcolor: 'rgba(0,0,0,0)', borderwidth: 0,
    traceorder: 'normal', itemclick: false, itemdoubleclick: false};
}

const layout = {
  width: W, height: H, margin: {l: mL, r: mR, t: mT, b: mB, autoexpand: false},
  paper_bgcolor: '#fff', plot_bgcolor: '#fff', font: {family: font},
  xaxis: xAxis(leftDom, 'y', false),
  yaxis: yAxis(topDom, 'x', [-0.82, 18.21], AGR_ticks, false),
  xaxis2: xAxis(rightDom, 'y2', false),
  yaxis2: yAxis(topDom, 'x2', [-0.907, 21.07], MAN_ticks, true),
  xaxis3: xAxis(leftDom, 'y3', true),
  yaxis3: yAxis(botDom, 'x3', [-0.705, 15.64], MIN_ticks, false),
  xaxis4: xAxis(rightDom, 'y4', true),
  yaxis4: yAxis(botDom, 'x4', [-0.54, 12.07], SVC_ticks, true),
  legend: legendCfg(1315),
  legend2: legendCfg(1361),
  legend3: legendCfg(1408),
  shapes: shapes, annotations: annotations, hovermode: false
};

Plotly.newPlot('chart', traces, layout, {staticPlot: true, displayModeBar: false});
</script></body></html>
